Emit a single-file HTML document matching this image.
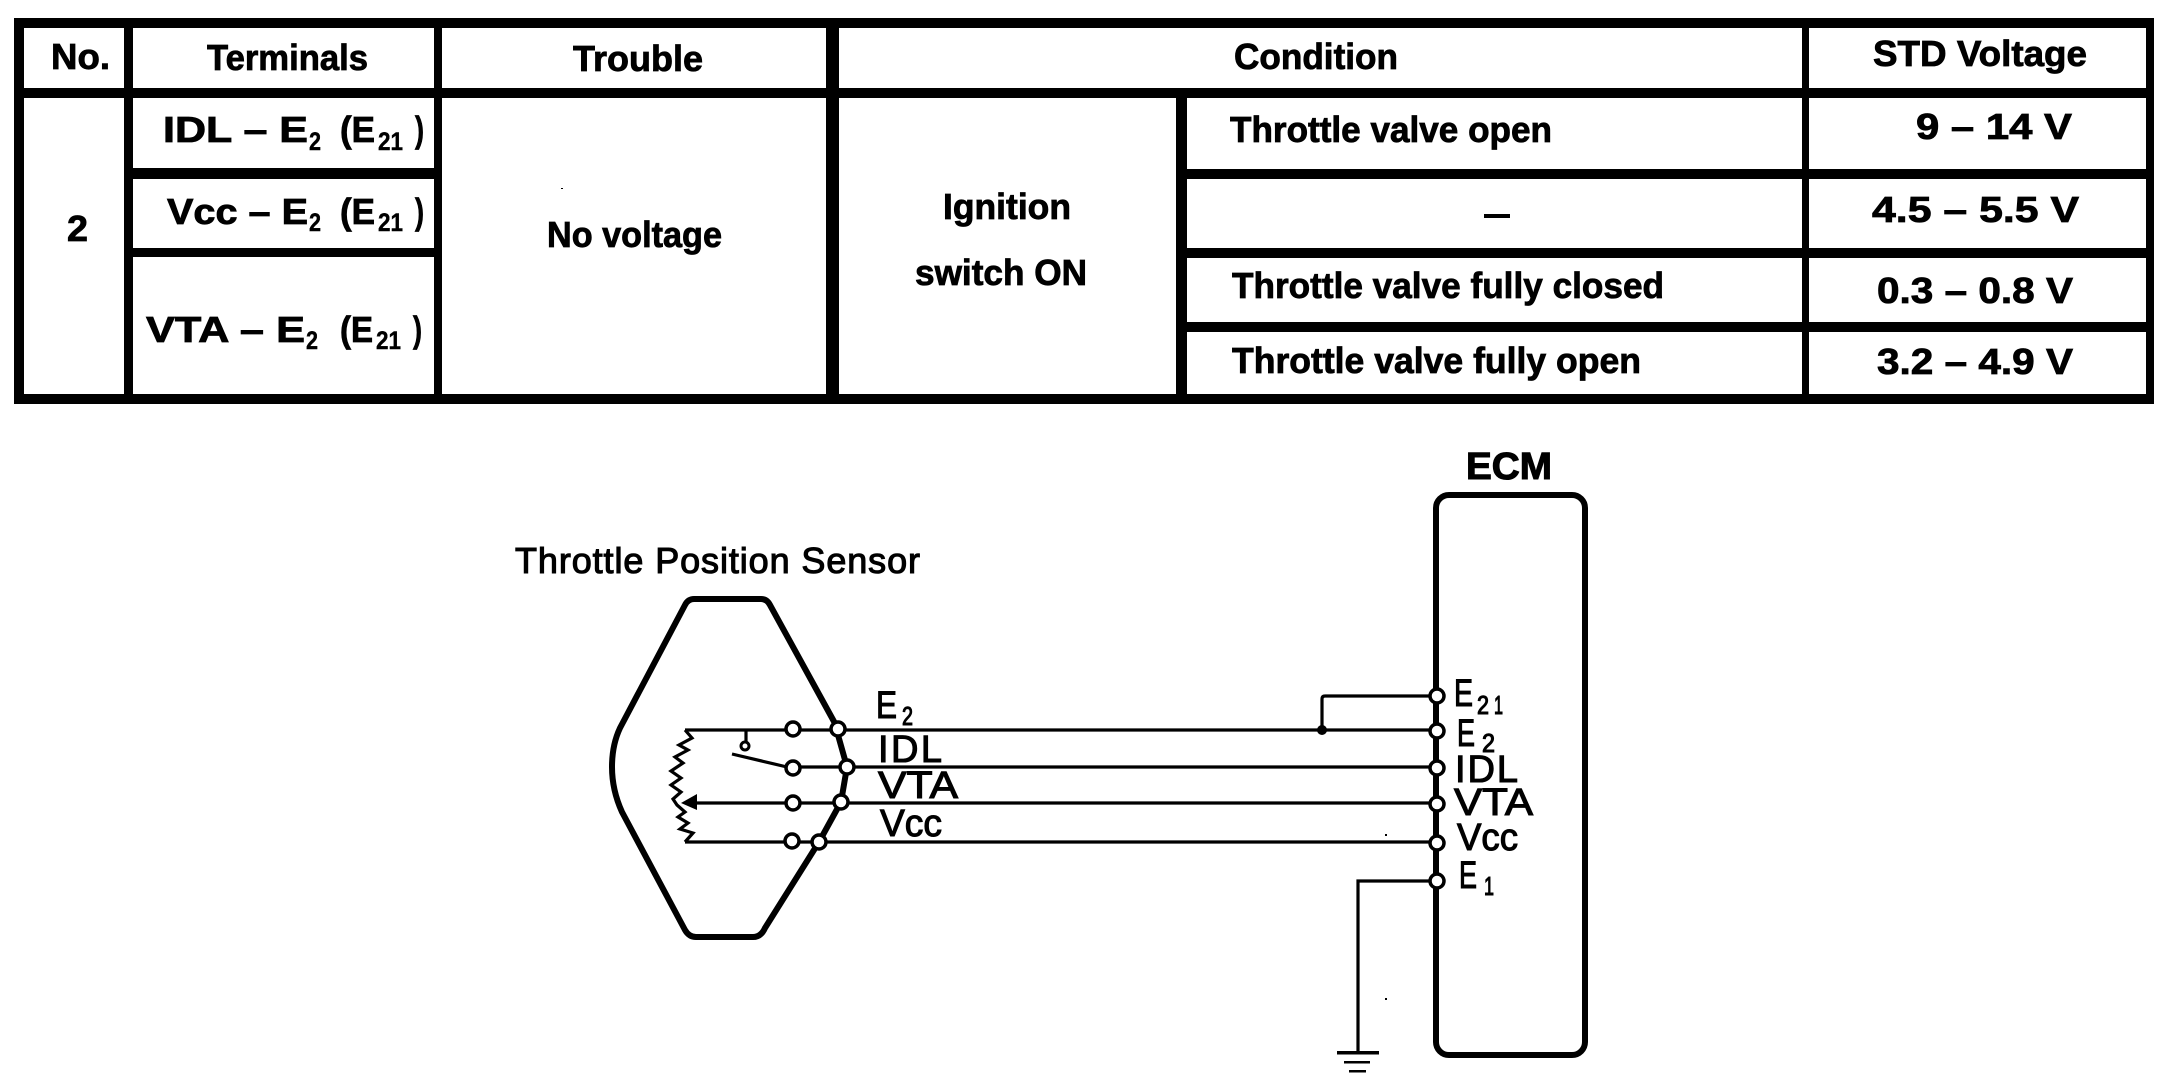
<!DOCTYPE html>
<html><head><meta charset="utf-8"><title>Throttle Position Sensor</title>
<style>
html,body{margin:0;padding:0;background:#fff;width:2176px;height:1090px;overflow:hidden}
svg{display:block}
text{font-family:"Liberation Sans",Arial,sans-serif;fill:#000}
.b{font-weight:bold;font-size:36px;stroke:#000;stroke-width:.8px}
.s{font-weight:bold;font-size:25px;stroke:#000;stroke-width:.4px}
.d{font-size:38px;stroke:#000;stroke-width:1.1px}
.ds{font-size:26px;stroke:#000;stroke-width:1.1px}
.w{fill:none;stroke:#000;stroke-width:3.2}
.k{fill:none;stroke:#000;stroke-width:6;stroke-linejoin:round}
.p{fill:#fff;stroke:#000;stroke-width:3.5}
</style></head><body>
<svg width="2176" height="1090" viewBox="0 0 2176 1090" xmlns="http://www.w3.org/2000/svg">
<rect width="2176" height="1090" fill="#fff"/>
<!-- table rules -->
<g fill="#000">
<rect x="14" y="18" width="2140" height="10"/>
<rect x="14" y="88" width="2140" height="10"/>
<rect x="14" y="394" width="2140" height="10"/>
<rect x="14" y="18" width="10" height="386"/>
<rect x="2146" y="18" width="8" height="386"/>
<rect x="124" y="18" width="9" height="386"/>
<rect x="434" y="18" width="8" height="386"/>
<rect x="826" y="18" width="13" height="386"/>
<rect x="1176" y="88" width="11" height="316"/>
<rect x="1802" y="18" width="7" height="386"/>
<rect x="124" y="168" width="318" height="11"/>
<rect x="124" y="248" width="318" height="9"/>
<rect x="1176" y="169" width="978" height="10"/>
<rect x="1176" y="248" width="978" height="10"/>
<rect x="1176" y="322" width="978" height="10"/>
<rect x="1484" y="214" width="26" height="4"/>
<rect x="561" y="188" width="2" height="1"/>
<rect x="1385" y="834" width="2" height="2"/>
<rect x="1385" y="998" width="2" height="2"/>
</g>
<!-- table text -->
<text class="b" x="51" y="69" textLength="59" lengthAdjust="spacingAndGlyphs">No.</text>
<text class="b" x="207" y="70" textLength="161" lengthAdjust="spacingAndGlyphs">Terminals</text>
<text class="b" x="573" y="71" textLength="130" lengthAdjust="spacingAndGlyphs">Trouble</text>
<text class="b" x="1234" y="69" textLength="164" lengthAdjust="spacingAndGlyphs">Condition</text>
<text class="b" x="1873" y="66" textLength="214" lengthAdjust="spacingAndGlyphs">STD Voltage</text>

<text class="b" x="163" y="142" textLength="145" lengthAdjust="spacingAndGlyphs">IDL – E</text>
<text class="s" x="309" y="150" textLength="12" lengthAdjust="spacingAndGlyphs">2</text>
<text class="b" x="340" y="142" textLength="35" lengthAdjust="spacingAndGlyphs">(E</text>
<text class="s" x="378" y="150" textLength="25" lengthAdjust="spacingAndGlyphs">21</text>
<text class="b" x="415" y="142" textLength="9" lengthAdjust="spacingAndGlyphs">)</text>

<text class="b" x="167" y="224" textLength="141" lengthAdjust="spacingAndGlyphs">Vcc – E</text>
<text class="s" x="309" y="231" textLength="12" lengthAdjust="spacingAndGlyphs">2</text>
<text class="b" x="340" y="224" textLength="35" lengthAdjust="spacingAndGlyphs">(E</text>
<text class="s" x="378" y="231" textLength="25" lengthAdjust="spacingAndGlyphs">21</text>
<text class="b" x="415" y="224" textLength="9" lengthAdjust="spacingAndGlyphs">)</text>

<text class="b" x="146" y="342" textLength="159" lengthAdjust="spacingAndGlyphs">VTA – E</text>
<text class="s" x="306" y="349" textLength="12" lengthAdjust="spacingAndGlyphs">2</text>
<text class="b" x="340" y="342" textLength="33" lengthAdjust="spacingAndGlyphs">(E</text>
<text class="s" x="376" y="349" textLength="25" lengthAdjust="spacingAndGlyphs">21</text>
<text class="b" x="413" y="342" textLength="9" lengthAdjust="spacingAndGlyphs">)</text>

<text class="b" x="67" y="241" textLength="21" lengthAdjust="spacingAndGlyphs">2</text>
<text class="b" x="547" y="247" textLength="175" lengthAdjust="spacingAndGlyphs">No voltage</text>
<text class="b" x="943" y="219" textLength="128" lengthAdjust="spacingAndGlyphs">Ignition</text>
<text class="b" x="915" y="285" textLength="172" lengthAdjust="spacingAndGlyphs">switch ON</text>

<text class="b" x="1230" y="142" textLength="322" lengthAdjust="spacingAndGlyphs">Throttle valve open</text>
<text class="b" x="1232" y="298" textLength="432" lengthAdjust="spacingAndGlyphs">Throttle valve fully closed</text>
<text class="b" x="1232" y="373" textLength="409" lengthAdjust="spacingAndGlyphs">Throttle valve fully open</text>

<text class="b" x="1916" y="139" textLength="156" lengthAdjust="spacingAndGlyphs">9 – 14 V</text>
<text class="b" x="1872" y="222" textLength="207" lengthAdjust="spacingAndGlyphs">4.5 – 5.5 V</text>
<text class="b" x="1877" y="303" textLength="196" lengthAdjust="spacingAndGlyphs">0.3 – 0.8 V</text>
<text class="b" x="1877" y="374" textLength="196" lengthAdjust="spacingAndGlyphs">3.2 – 4.9 V</text>

<!-- sensor body -->
<path class="k" d="M685 605 Q688 599 694 599 L761 599 Q767 599 770 605 L837 727 M838 735 L847 767 L841 802 L819 842 M819 842 L765 928 Q761 937 753 937 L696 937 Q689 937 685 930 L622 812 Q612 790 612 767 Q612 745 620 728 L685 605"/>

<!-- wires -->
<g class="w">
<path d="M685 730 H1437"/>
<path d="M787 767 H1437"/>
<path d="M697 803 H1437"/>
<path d="M685 842 H1437"/>
<path d="M1437 696 H1325 Q1322 696 1322 699 V731"/>
<path d="M1437 881 H1358 V1053"/>
<!-- resistor -->
<path d="M685 730 L692 738 L679 745 L688 750 L675 757 L683 763 L671 771 L681 778 L671 785 L681 792 L673 799 L677 805 L685 812 L678 817 L688 823 L680 829 L693 833 L685 842"/>
<!-- switch -->
<path d="M746 730 V742"/>
<path d="M732 754 L787 767"/>
</g>
<circle cx="745" cy="746" r="4" fill="#fff" stroke="#000" stroke-width="3"/>
<path d="M681 803 L697 794 L697 810 Z" fill="#000"/>
<circle cx="1322" cy="730" r="5" fill="#000"/>

<!-- ground -->
<g fill="#000">
<rect x="1337" y="1051" width="42" height="3.5"/>
<rect x="1344" y="1061" width="26" height="2.5"/>
<rect x="1349" y="1070" width="17" height="2.5"/>
</g>

<!-- ECM -->
<rect x="1436" y="495" width="149" height="560" rx="13" ry="13" class="k"/>

<!-- pins -->
<circle class="p" cx="793" cy="729" r="7"/>
<circle class="p" cx="793" cy="768" r="7"/>
<circle class="p" cx="793" cy="803" r="7"/>
<circle class="p" cx="792" cy="841" r="7"/>
<circle class="p" cx="838" cy="729" r="7"/>
<circle class="p" cx="847" cy="767" r="7"/>
<circle class="p" cx="841" cy="802" r="7"/>
<circle class="p" cx="819" cy="842" r="7"/>
<circle class="p" cx="1437" cy="696" r="7"/>
<circle class="p" cx="1437" cy="731" r="7"/>
<circle class="p" cx="1437" cy="768" r="7"/>
<circle class="p" cx="1437" cy="804" r="7"/>
<circle class="p" cx="1437" cy="843" r="7"/>
<circle class="p" cx="1437" cy="881" r="7"/>

<!-- diagram labels -->
<text class="d" x="515" y="573" textLength="405" lengthAdjust="spacing" style="font-size:36px">Throttle Position Sensor</text>
<text class="d" x="1466" y="479" textLength="86" lengthAdjust="spacingAndGlyphs" style="font-weight:bold">ECM</text>

<text class="d" x="876" y="718" textLength="21" lengthAdjust="spacingAndGlyphs">E</text>
<text class="ds" x="902" y="725" textLength="11" lengthAdjust="spacingAndGlyphs">2</text>
<text class="d" x="878" y="762" textLength="64" lengthAdjust="spacing">IDL</text>
<text class="d" x="878" y="798" textLength="80" lengthAdjust="spacingAndGlyphs">VTA</text>
<text class="d" x="880" y="836" textLength="62" lengthAdjust="spacingAndGlyphs">Vcc</text>

<text class="d" x="1454" y="706" textLength="19" lengthAdjust="spacingAndGlyphs">E</text>
<text class="ds" x="1477" y="714" textLength="12" lengthAdjust="spacingAndGlyphs">2</text>
<text class="ds" x="1494" y="714" textLength="9" lengthAdjust="spacingAndGlyphs">1</text>
<text class="d" x="1457" y="746" textLength="18" lengthAdjust="spacingAndGlyphs">E</text>
<text class="ds" x="1482" y="752" textLength="13" lengthAdjust="spacingAndGlyphs">2</text>
<text class="d" x="1455" y="782" textLength="63" lengthAdjust="spacing">IDL</text>
<text class="d" x="1454" y="815" textLength="79" lengthAdjust="spacingAndGlyphs">VTA</text>
<text class="d" x="1457" y="850" textLength="61" lengthAdjust="spacingAndGlyphs">Vcc</text>
<text class="d" x="1459" y="888" textLength="18" lengthAdjust="spacingAndGlyphs">E</text>
<text class="ds" x="1484" y="895" textLength="10" lengthAdjust="spacingAndGlyphs">1</text>
</svg>
</body></html>
